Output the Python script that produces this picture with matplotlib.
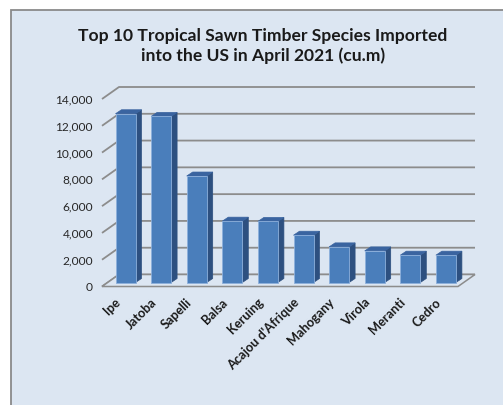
import matplotlib
matplotlib.use("Agg")
import matplotlib.pyplot as plt
from matplotlib.patches import Rectangle, Polygon

species = ["Ipe", "Jatoba", "Sapelli", "Balsa", "Keruing", "Acajou d'Afrique",
           "Mahogany", "Virola", "Meranti", "Cedro"]
volumes = [12600, 12400, 7950, 4580, 4560, 3530, 2660, 2360, 2040, 2040]
y_ticks = [0, 2000, 4000, 6000, 8000, 10000, 12000, 14000]
y_tick_labels = ["0", "2,000", "4,000", "6,000", "8,000", "10,000", "12,000", "14,000"]
title = "Top 10 Tropical Sawn Timber Species Imported\ninto the US in April 2021 (cu.m)"

W, H = 503, 406
fig = plt.figure(figsize=(W / 100, H / 100), dpi=100)
fig.patch.set_facecolor("white")

# chart area panel
bg = fig.add_axes([0, 0, 1, 1], zorder=0)
bg.set_xlim(0, W)
bg.set_ylim(H, 0)
bg.axis("off")
bg.add_patch(Rectangle((11, 11), W + 20, H + 20, facecolor="#dce6f2",
                       edgecolor="#8a8a8a", linewidth=1.3))

# front plane of the plot: x -0.5..9.5 -> 102..458 px, y 0..14000 -> 287.5..100 px
x0, x1 = 102, 458
ytop, ybot = 100, 287.5
ax = fig.add_axes([x0 / W, (H - ybot) / H, (x1 - x0) / W, (ybot - ytop) / H], zorder=2)
ax.set_xlim(-0.5, 9.5)
ax.set_ylim(0, 14000)
ax.axis("off")
ax.patch.set_alpha(0)

px_x = (x1 - x0) / 10.0          # pixels per category
px_y = (ybot - ytop) / 14000.0   # pixels per unit value

def dx(p):
    return p / px_x

def dy(p):
    return p / px_y

# depth of the floor/back wall
fdx, fdy = dx(17), dy(12)
grid_c = "#8c8c8c"

for v, lab in zip(y_ticks, y_tick_labels):
    ax.plot([-0.5, -0.5 + fdx, 9.5 + fdx], [v, v + fdy, v + fdy],
            color=grid_c, lw=1.3, clip_on=False, zorder=1, solid_capstyle="butt")
    ax.text(-0.5 - dx(9), v, lab, ha="right", va="center",
            fontsize=8.6, family="Lato", color="#262626")

# floor outline
ax.add_patch(Polygon([(-0.5, 0), (9.5, 0), (9.5 + fdx, fdy), (-0.5 + fdx, fdy)],
                     closed=True, facecolor="#dce6f2", edgecolor=grid_c, lw=1.1,
                     clip_on=False, zorder=1.5))

# 3D columns
bw = dx(20)
bdx, bdy = dx(6), dy(4)        # column depth
odx, ody = dx(5.7), dy(4)      # column offset from the front plane
front_c, side_c, top_c, edge_c = "#4a7ebb", "#2d5080", "#3a64a0", "#8db0dc"
for i, v in enumerate(volumes):
    xl = i - bw / 2 + odx
    xr = xl + bw
    yb = ody
    yt = v + ody
    ax.add_patch(Polygon([(xr, yb), (xr + bdx, yb + bdy), (xr + bdx, yt + bdy), (xr, yt)],
                         closed=True, facecolor=side_c, edgecolor=side_c, lw=0.5,
                         clip_on=False, zorder=3))
    ax.add_patch(Polygon([(xl, yt), (xr, yt), (xr + bdx, yt + bdy), (xl + bdx, yt + bdy)],
                         closed=True, facecolor=top_c, edgecolor=top_c, lw=0.5,
                         clip_on=False, zorder=3))
    ax.bar(xl, v, width=bw, bottom=yb, align="edge", color=front_c,
           edgecolor=edge_c, linewidth=0.6, clip_on=False, zorder=4)

# category labels
for i, name in enumerate(species):
    ax.text(i - dx(1), -dy(13), name, rotation=45, rotation_mode="anchor",
            ha="right", va="center", fontsize=9.2, family="Lato", fontweight="bold",
            color="#1a1a1a")

bg.text(263, 46, title, ha="center", va="center", fontsize=12.6,
        family="Lato", fontweight="bold", color="#1a1a1a", linespacing=1.25)

fig.savefig("out.png", dpi=100, facecolor=fig.get_facecolor())
